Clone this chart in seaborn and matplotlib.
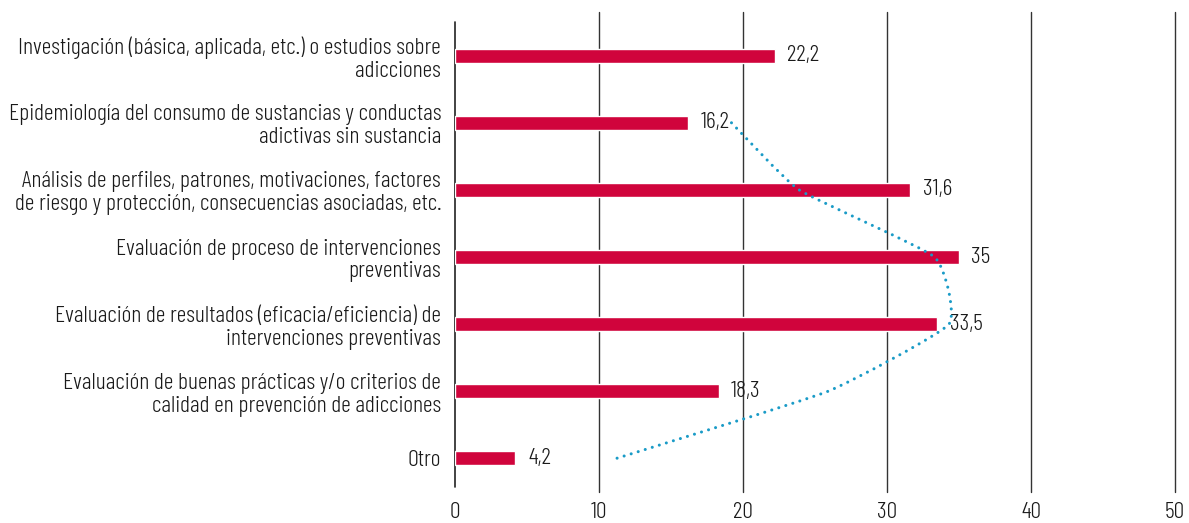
import matplotlib
matplotlib.use("Agg")
import matplotlib.pyplot as plt
from matplotlib.path import Path
from matplotlib.patches import PathPatch
import seaborn as sns
import pandas as pd
import numpy as np

categories = [
    "Investigación (básica, aplicada, etc.) o estudios sobre\nadicciones",
    "Epidemiología del consumo de sustancias y conductas\nadictivas sin sustancia",
    "Análisis de perfiles, patrones, motivaciones, factores\nde riesgo y protección, consecuencias asociadas, etc.",
    "Evaluación de proceso de intervenciones\npreventivas",
    "Evaluación de resultados (eficacia/eficiencia) de\nintervenciones preventivas",
    "Evaluación de buenas prácticas y/o criterios de\ncalidad en prevención de adicciones",
    "Otro",
]
values = [22.2, 16.2, 31.6, 35.0, 33.5, 18.3, 4.2]
value_labels = ["22,2", "16,2", "31,6", "35", "33,5", "18,3", "4,2"]
# dotted trend line, starting at the 2nd category
trend_values = [19.2, 23.9, 33.3, 34.3, 25.9, 11.2]
x_ticks = [0, 10, 20, 30, 40, 50]

sns.set_theme(style="white")
plt.rcParams["font.family"] = ["Barlow Condensed", "DejaVu Sans"]
plt.rcParams["font.weight"] = 300
TXT = "#1a1a1a"
FS = 17.2

fig = plt.figure(figsize=(11.89, 5.23), dpi=100)
ax = fig.add_axes([455 / 1189, 1 - 492 / 523, (1175 - 455) / 1189, (492 - 12) / 523])

df = pd.DataFrame({"cat": categories, "val": values})
sns.barplot(data=df, y="cat", x="val", orient="h", color="#D0043C",
            saturation=1, width=0.21, ax=ax)

ax.set_xlim(0, 50)
ax.set_ylim(6.5, -0.65)
for s in ax.spines.values():
    s.set_visible(False)

for t in x_ticks:
    if t == 0:
        ax.axvline(t, ymin=(492 - 487) / 480, ymax=(492 - 22) / 480, color="#222222",
                   lw=1.2, zorder=0, clip_on=False)
    else:
        ax.axvline(t, color="#333333", lw=1.0, zorder=0, clip_on=False)

ax.set_xticks(x_ticks)
ax.set_xticklabels([str(t) for t in x_ticks], fontsize=FS, color=TXT)
ax.tick_params(axis="x", length=0, pad=7)
ax.tick_params(axis="y", length=0, pad=10)
for lbl in ax.get_yticklabels():
    lbl.set_fontsize(FS)
    lbl.set_color(TXT)
    lbl.set_horizontalalignment("right")
    lbl.set_multialignment("right")
    lbl.set_linespacing(1.12)
ax.set_xlabel("")
ax.set_ylabel("")

for i, (v, s) in enumerate(zip(values, value_labels)):
    ax.annotate(s, xy=(v, i), xytext=(9, 0), textcoords="offset points",
                ha="left", va="center", fontsize=FS, color=TXT)

# smoothed dotted trend line (rendered as Bezier curves)
pts = np.array([[tv, i + 1] for i, tv in enumerate(trend_values)], dtype=float)
verts = [tuple(pts[0])]
codes = [Path.MOVETO]
n = len(pts)
k = 1.0 / 14.0
for i in range(n - 1):
    p0 = pts[i - 1] if i > 0 else pts[i]
    p1 = pts[i]
    p2 = pts[i + 1]
    p3 = pts[i + 2] if i + 2 < n else pts[i + 1]
    c1 = p1 + (p2 - p0) * k
    c2 = p2 - (p3 - p1) * k
    verts += [tuple(c1), tuple(c2), tuple(p2)]
    codes += [Path.CURVE4] * 3
patch = PathPatch(Path(verts, codes), fill=False, edgecolor="#1A9BC7", lw=2.2,
                  linestyle=(0, (0.01, 2.4)), capstyle="round", zorder=5)
ax.add_patch(patch)

fig.savefig("out.png", dpi=100)
